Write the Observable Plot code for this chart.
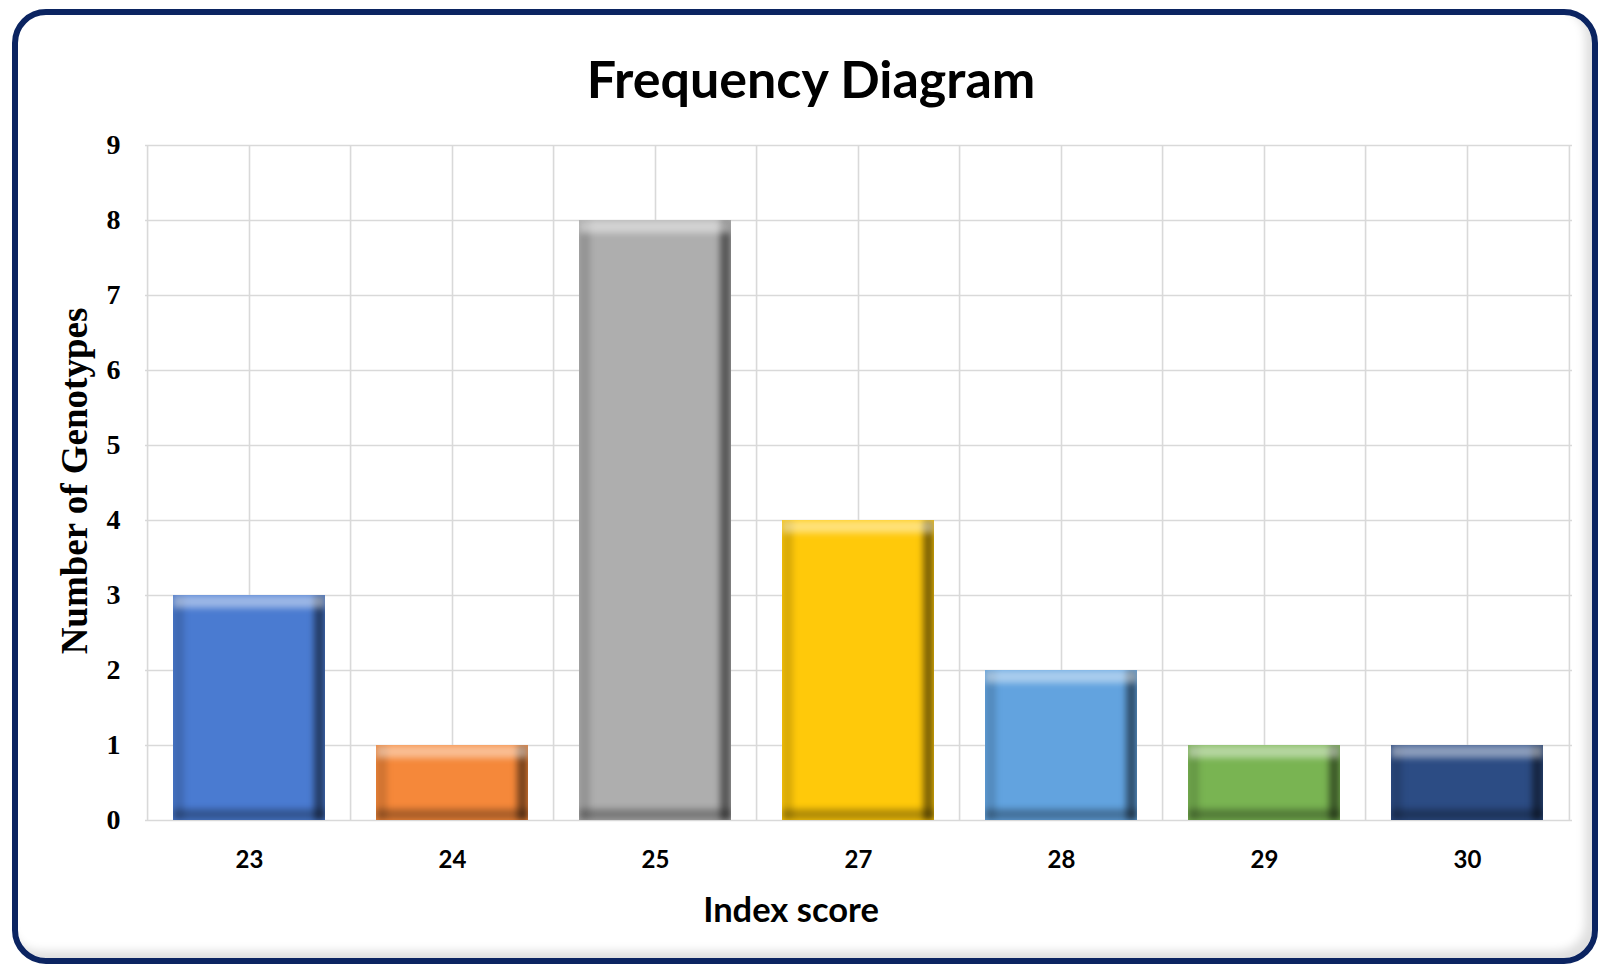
<!DOCTYPE html>
<html>
<head>
<meta charset="utf-8">
<script src="https://cdn.jsdelivr.net/npm/d3@7"></script>
<script src="https://cdn.jsdelivr.net/npm/@observablehq/plot@0.6"></script>
<style>
  html, body { margin: 0; padding: 0; background: #fff; }
  #wrap { position: relative; width: 1602px; height: 969px; overflow: hidden; background: #fff; }
  #frame {
    position: absolute; left: 12px; top: 9px; width: 1574px; height: 943px;
    border: 6px solid #0b2461; border-radius: 34px;
    box-shadow: inset -7px -7px 10px rgba(0,0,0,0.13);
  }
  #title {
    position: absolute; left: 811px; top: 52px; transform: translateX(-50%);
    font-family: Lato, "Open Sans", sans-serif; font-weight: 700; font-size: 52px;
    line-height: 1; color: #000; white-space: nowrap;
  }
  #xlabel {
    position: absolute; left: 791px; top: 892px; transform: translateX(-50%);
    font-family: Lato, "Open Sans", sans-serif; font-weight: 700; font-size: 34.5px;
    line-height: 1; color: #000; white-space: nowrap;
  }
  #ylabel {
    position: absolute; left: 74px; top: 481px; transform: translate(-50%, -50%) rotate(-90deg);
    font-family: "Liberation Serif", "DejaVu Serif", serif; font-weight: 700; font-size: 37px;
    line-height: 1; color: #000; white-space: nowrap;
  }
  #chart { position: absolute; left: 0; top: 130px; }
</style>
</head>
<body>
<div id="wrap">
  <div id="frame"></div>
  <div id="title">Frequency Diagram</div>
  <div id="ylabel">Number of Genotypes</div>
  <div id="xlabel">Index score</div>
  <div id="chart"></div>
</div>
<script>
const scores = ["23", "24", "25", "27", "28", "29", "30"];
const counts = [3, 1, 8, 4, 2, 1, 1];
const barColors = ["#4a7bd1", "#f5883a", "#aeaeae", "#ffc90a", "#62a3df", "#79b452", "#2c4c84"];
const yTicks = [0, 1, 2, 3, 4, 5, 6, 7, 8, 9];

const data = scores.map((s, i) => ({score: s, count: counts[i], color: barColors[i]}));

const W = 1602, H = 810;
const mL = 145, mR = 30, mT = 15, mB = 120;
const step = (W - mL - mR) / scores.length;

const grid = {stroke: "#d9d9d9", strokeWidth: 1.6, strokeOpacity: 1};

const plot = Plot.plot({
  width: W,
  height: H,
  marginLeft: mL,
  marginRight: mR,
  marginTop: mT,
  marginBottom: mB,
  style: {background: "transparent", overflow: "visible"},
  x: {type: "band", domain: scores, paddingInner: 0.25, paddingOuter: 0.125},
  y: {domain: [0, 9]},
  color: {type: "identity"},
  marks: [
    Plot.ruleY(yTicks, {y: d => d, ...grid}),
    Plot.ruleX(scores, {x: d => d, ...grid}),
    Plot.ruleX(scores, {x: d => d, dx: -step / 2, ...grid}),
    Plot.ruleX(scores.slice(-1), {x: d => d, dx: step / 2, ...grid}),
    Plot.barY(data, {x: "score", y: "count", fill: "color"}),
    Plot.axisY(yTicks, {
      tickSize: 0, tickPadding: 25, label: null, tickFormat: d3.format("d"),
      fontFamily: "Liberation Serif", fontWeight: 700, fontSize: 28, fill: "#000"
    }),
    Plot.axisX({
      tickSize: 0, tickPadding: 30, label: null,
      fontFamily: "Lato", fontWeight: 700, fontSize: 24, fill: "#000"
    })
  ]
});

const ns = "http://www.w3.org/2000/svg";
const defs = document.createElementNS(ns, "defs");
defs.innerHTML = `
<filter id="bevel" x="-5%" y="-5%" width="110%" height="110%" color-interpolation-filters="sRGB">
  <feOffset in="SourceAlpha" dy="13" result="sd"/>
  <feComposite in="SourceAlpha" in2="sd" operator="out" result="topEdge0"/>
  <feGaussianBlur in="topEdge0" stdDeviation="3" result="topEdgeB"/>
  <feComposite in="topEdgeB" in2="SourceAlpha" operator="in" result="topEdge"/>
  <feFlood flood-color="#ffffff" flood-opacity="0.45"/>
  <feComposite in2="topEdge" operator="in" result="topHi"/>
  <feOffset in="SourceAlpha" dx="-11" result="sl"/>
  <feComposite in="SourceAlpha" in2="sl" operator="out" result="rightEdge0"/>
  <feGaussianBlur in="rightEdge0" stdDeviation="3" result="rightEdgeB"/>
  <feComposite in="rightEdgeB" in2="SourceAlpha" operator="in" result="rightEdge"/>
  <feFlood flood-color="#000000" flood-opacity="0.5"/>
  <feComposite in2="rightEdge" operator="in" result="rightSh"/>
  <feOffset in="SourceAlpha" dy="-11" result="su"/>
  <feComposite in="SourceAlpha" in2="su" operator="out" result="botEdge0"/>
  <feGaussianBlur in="botEdge0" stdDeviation="3" result="botEdgeB"/>
  <feComposite in="botEdgeB" in2="SourceAlpha" operator="in" result="botEdge"/>
  <feFlood flood-color="#000000" flood-opacity="0.3"/>
  <feComposite in2="botEdge" operator="in" result="botSh"/>
  <feOffset in="SourceAlpha" dx="11" result="sr"/>
  <feComposite in="SourceAlpha" in2="sr" operator="out" result="leftEdge0"/>
  <feGaussianBlur in="leftEdge0" stdDeviation="3" result="leftEdgeB"/>
  <feComposite in="leftEdgeB" in2="SourceAlpha" operator="in" result="leftEdge"/>
  <feFlood flood-color="#000000" flood-opacity="0.15"/>
  <feComposite in2="leftEdge" operator="in" result="leftSh"/>
  <feMerge>
    <feMergeNode in="SourceGraphic"/>
    <feMergeNode in="leftSh"/>
    <feMergeNode in="botSh"/>
    <feMergeNode in="rightSh"/>
    <feMergeNode in="topHi"/>
  </feMerge>
</filter>`;
plot.insertBefore(defs, plot.firstChild);
plot.querySelectorAll('g[aria-label="bar"] rect').forEach(r => r.setAttribute("filter", "url(#bevel)"));

document.getElementById("chart").appendChild(plot);
</script>
</body>
</html>
